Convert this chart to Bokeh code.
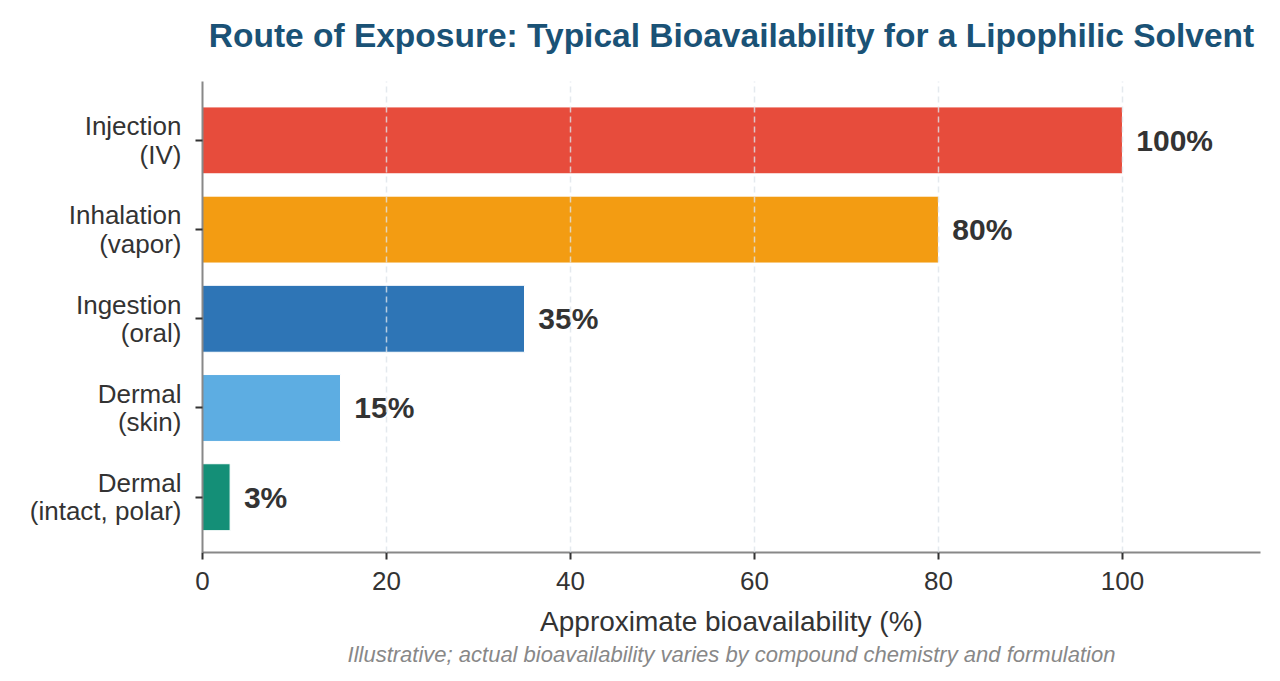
from bokeh.plotting import figure
from bokeh.models import Range1d, FixedTicker, Title
from bokeh.core.properties import value
from bokeh.embed import file_html
from bokeh.resources import INLINE

# Exposure routes, listed bottom to top
routes = ["Dermal\n(intact, polar)", "Dermal\n(skin)", "Ingestion\n(oral)",
          "Inhalation\n(vapor)", "Injection\n(IV)"]
bioavailability = [3, 15, 35, 80, 100]
bar_colors = ["#148F77", "#5DADE2", "#2E75B6", "#F39C12", "#E74C3C"]
x_ticks = [0, 20, 40, 60, 80, 100]

FONT = "Liberation Sans"
positions = list(range(len(routes)))

p = figure(width=1280, height=681, output_backend="svg", toolbar_location=None,
           title=None,
           x_range=Range1d(0, 115), y_range=Range1d(-0.62, 4.66),
           min_border_left=202, min_border_right=20,
           min_border_top=81, min_border_bottom=129)

# a thin blank panel keeps the heading clear of the frame
gap = Title(text=" ", text_font_size="1px", standoff=23)
p.add_layout(gap, "above")

heading = Title(text="Route of Exposure: Typical Bioavailability for a Lipophilic Solvent",
                text_font=FONT, text_font_size="33.5px", text_font_style="bold",
                text_color="#1A5276", align="center", vertical_align="top",
                offset=0, standoff=0)
p.add_layout(heading, "above")

p.hbar(y=positions, right=bioavailability, left=0, height=0.75,
       fill_color=bar_colors, line_color="white", line_width=1)

p.text(x=[v + 1.5 for v in bioavailability], y=positions,
       text=[f"{v}%" for v in bioavailability],
       text_font=value(FONT), text_font_size="30px", text_font_style="bold",
       text_color="#333333", text_align="left", text_baseline="middle")

# x axis
p.xaxis.ticker = FixedTicker(ticks=x_ticks)
p.xaxis.axis_label = "Approximate bioavailability (%)"
p.xaxis.axis_label_text_font = FONT
p.xaxis.axis_label_text_font_size = "28px"
p.xaxis.axis_label_text_font_style = "normal"
p.xaxis.axis_label_text_color = "#333333"
p.xaxis.axis_label_standoff = 13
p.xaxis.major_label_text_font = FONT
p.xaxis.major_label_text_font_size = "26px"
p.xaxis.major_label_text_color = "#333333"
p.xaxis.major_label_standoff = 12

# y axis with category labels
p.yaxis.ticker = FixedTicker(ticks=positions)
p.yaxis.major_label_overrides = {i: r for i, r in enumerate(routes)}
p.yaxis.major_label_text_font = FONT
p.yaxis.major_label_text_font_size = "26px"
p.yaxis.major_label_text_color = "#333333"
p.yaxis.major_label_text_line_height = 0.95
p.yaxis.major_label_standoff = 14

for ax in (p.xaxis, p.yaxis):
    ax.axis_line_color = "#888888"
    ax.axis_line_width = 2
    ax.major_tick_line_color = "#333333"
    ax.major_tick_line_width = 2
    ax.major_tick_out = 7
    ax.major_tick_in = 0
    ax.minor_tick_line_color = None

p.ygrid.grid_line_color = None
p.xgrid.ticker = FixedTicker(ticks=x_ticks)
p.xgrid.grid_line_color = "#DDE3EA"
p.xgrid.grid_line_alpha = 0.8
p.xgrid.grid_line_dash = "6 4"
p.xgrid.grid_line_width = 1.5
p.xgrid.level = "overlay"

p.outline_line_color = None

note = Title(text="Illustrative; actual bioavailability varies by compound chemistry and formulation",
             align="center", text_font=FONT, text_font_size="22px",
             text_font_style="italic", text_color="#888888", offset=0, standoff=0)
p.add_layout(note, "below")

open("out.html", "w").write(file_html(p, INLINE))
